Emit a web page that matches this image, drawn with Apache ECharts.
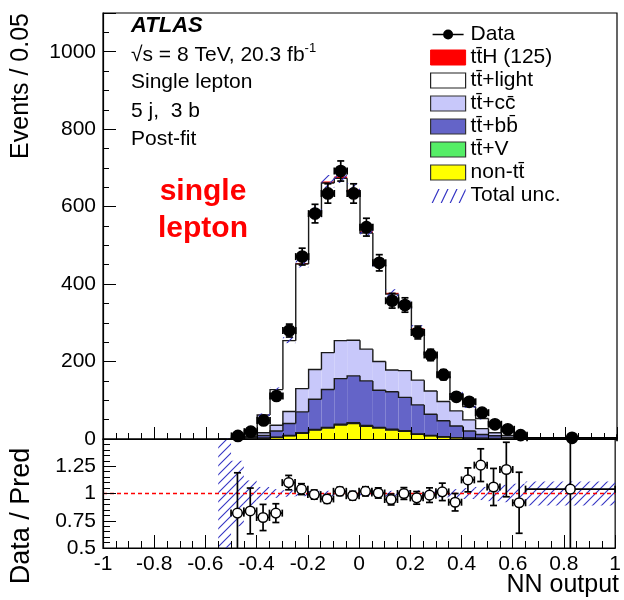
<!DOCTYPE html>
<html><head><meta charset="utf-8">
<script src="https://cdn.jsdelivr.net/npm/echarts@6/dist/echarts.min.js"></script>
<style>html,body{margin:0;padding:0;background:#fff}#c{width:624px;height:600px}</style>
</head><body><div id="c"></div>
<script>
// ---- data ----
const binEdges = [-0.55,-0.5,-0.45,-0.4,-0.35,-0.3,-0.25,-0.2,-0.15,-0.1,-0.05,0,0.05,0.1,0.15,0.2,0.25,0.3,0.35,0.4,0.45,0.5,0.55,0.6,0.65,1.0];
const nonTT   = [0,0.4,1,2,4,8,15,23,28,36,40,33,28,23,20,12,8,5,3,2,1.5,1,0.5,0.3,0.2];
const ttV     = [0,0,0,0,0.5,1,1,1.5,2,2,2,2,2,2,1.5,1,1,1,0.5,0.5,0.3,0.2,0.1,0.1,0];
const ttbb    = [0.1,1,3,7,16,31,54,78,98,118,121,115,96,97,86,75,55,41,30,18,10,7,3.5,1.6,0.8];
const ttcc    = [0.1,1.5,3,7,15,31,60,77,95,98,92,82,74,56,69,64,60,50,39,29,15,8,5,3,1];
const ttlight = [0.1,5,15,46,92,183,322,402,438,419,384,300,248,196,167,131,94,65,44,34,26,19.5,11,6,1];
const ttH     = [0,0,0.1,0.3,0.6,1.2,2.5,3.5,4,5,5,4.5,4,3.5,3,2.5,2,1.5,1.2,1,0.7,0.5,0.3,0.2,0.1];
const dataVals = [null,8,19,48,111,280,471,582,634,692,634,547,455,357,346,275,217,166,109,96,68,38,25,10,3];
const dataErr  = [0,2.8,4.4,7,10.5,16.7,21.7,24,25,26,25,23,21,19,18.6,16.6,14.7,12.9,10.4,9.8,8.2,6.2,5,3.2,1.7];
const ratioVals = [null,0.82,0.84,0.78,0.82,1.10,1.04,0.99,0.95,1.02,0.98,1.02,1.005,0.945,1.0,0.96,0.985,1.015,0.92,1.125,1.26,1.06,1.22,0.915,1.04];
const ratioErr  = [0,0.37,0.21,0.12,0.086,0.066,0.05,0.042,0.04,0.038,0.04,0.042,0.047,0.05,0.054,0.058,0.067,0.08,0.08,0.11,0.15,0.17,0.25,0.28,0.6];
const relUnc    = [1,0.3,0.12,0.06,0.04,0.03,0.025,0.025,0.025,0.025,0.025,0.025,0.025,0.025,0.03,0.03,0.03,0.035,0.04,0.05,0.06,0.07,0.08,0.09,0.11];
const xTicks = [-1,-0.8,-0.6,-0.4,-0.2,0,0.2,0.4,0.6,0.8,1];
const yTicks = [0,200,400,600,800,1000];
const ratioTicks = [0.5,0.75,1,1.25];
const ratioRef = [[-1,1],[1,1]];

const FONT = '"Liberation Sans", Arial, sans-serif';
const TB = 't\u0304';

// hatch pattern
const hc = document.createElement('canvas'); hc.width = 9; hc.height = 9;
(function(){const g = hc.getContext('2d'); g.strokeStyle = '#3434c4'; g.lineWidth = 1.1;
 g.beginPath(); g.moveTo(-1,10); g.lineTo(10,-1); g.moveTo(-1,1); g.lineTo(1,-1); g.moveTo(8,10); g.lineTo(10,8); g.stroke();})();
const hatch = {image: hc, repeat: 'repeat'};

function inList(list, v){ return list.some(t => Math.abs(t - v) < 1e-9); }

function layerRender(fill, line) {
  return function (params, api) {
    const x0 = api.value(0), x1 = api.value(1), b = api.value(2), t = api.value(3), pt = api.value(4), last = api.value(5);
    const p0 = api.coord([x0, b]), p1 = api.coord([x1, t]);
    const children = [
      {type: 'rect', z2: 0, shape: {x: p0[0], y: p1[1], width: p1[0] - p0[0], height: p0[1] - p1[1]}, style: {fill: fill}}
    ];
    if (line) {
      const pPrev = api.coord([x0, pt]);
      const pts = [[p0[0], pPrev[1]], [p0[0], p1[1]], [p1[0], p1[1]]];
      if (last) pts.push([p1[0], api.coord([x1, 0])[1]]);
      children.push({type: 'polyline', z2: 20, shape: {points: pts}, style: {stroke: line, lineWidth: 1.4, fill: null}});
    }
    return {type: 'group', children: children};
  };
}

const layers = [
  {name: 'non-t' + TB, vals: nonTT, fill: '#ffff00', line: '#1a1a1a'},
  {name: 't' + TB + '+V', vals: ttV, fill: '#55ee66', line: '#1a1a1a'},
  {name: 't' + TB + '+bb\u0304', vals: ttbb, fill: '#6464c8', line: '#1a1a1a'},
  {name: 't' + TB + '+cc\u0304', vals: ttcc, fill: '#c8c8fa', line: '#1a1a1a'},
  {name: 't' + TB + '+light', vals: ttlight, fill: '#ffffff', line: '#1a1a1a'},
  {name: 't' + TB + 'H (125)', vals: ttH, fill: '#ff0000', line: null}
];

let cum = dataErr.map(() => 0);
const layerSeries = layers.map(L => {
  const bottoms = cum.slice();
  const tops = cum.map((c, i) => c + L.vals[i]);
  cum = tops;
  const data = tops.map((t, i) => [binEdges[i], binEdges[i + 1], bottoms[i], t, i === 0 ? 0 : tops[i - 1], i === tops.length - 1 ? 1 : 0]);
  return {type: 'custom', name: L.name, xAxisIndex: 0, yAxisIndex: 0, z: 2,
    renderItem: layerRender(L.fill, L.line), data: data, itemStyle: {color: L.fill},
    encode: {x: [0, 1], y: [2, 3]}, silent: true};
});
const total = cum;

function bandRender(params, api) {
  const a = api.coord([api.value(0), api.value(3)]), b = api.coord([api.value(1), api.value(2)]);
  return {type: 'rect', shape: {x: a[0], y: a[1], width: b[0] - a[0], height: b[1] - a[1]}, style: {fill: hatch}};
}
const upperBand = total.map((t, i) => [binEdges[i], binEdges[i + 1], t * (1 - relUnc[i]), t * (1 + relUnc[i])]);
const lowerBand = relUnc.map((r, i) => [binEdges[i], binEdges[i + 1], 1 - r, 1 + r]);

function refLineRender(params, api) {
  const a = api.coord([api.value(0), api.value(1)]), b = api.coord([api.value(2), api.value(3)]);
  return {type: 'line', shape: {x1: a[0], y1: a[1], x2: b[0], y2: b[1]}, style: {stroke: '#ff0000', lineWidth: 1.3, lineDash: [4, 3]}};
}

function pointRender(open) {
  return function (params, api) {
    const xc = api.value(0), y = api.value(1), xl = api.value(2), xh = api.value(3), e = api.value(4);
    const c = api.coord([xc, y]), l = api.coord([xl, y]), h = api.coord([xh, y]);
    const up = api.coord([xc, y + e]), dn = api.coord([xc, y - e]);
    const cap = 3.5, r = open ? 4.8 : 5.6;
    const st = {stroke: '#000', lineWidth: 1.7};
    return {type: 'group', children: [
      {type: 'line', shape: {x1: l[0], y1: c[1], x2: h[0], y2: c[1]}, style: st},
      {type: 'line', shape: {x1: l[0], y1: c[1] - cap, x2: l[0], y2: c[1] + cap}, style: st},
      {type: 'line', shape: {x1: h[0], y1: c[1] - cap, x2: h[0], y2: c[1] + cap}, style: st},
      {type: 'line', shape: {x1: c[0], y1: up[1], x2: c[0], y2: dn[1]}, style: st},
      {type: 'line', shape: {x1: c[0] - cap, y1: up[1], x2: c[0] + cap, y2: up[1]}, style: st},
      {type: 'line', shape: {x1: c[0] - cap, y1: dn[1], x2: c[0] + cap, y2: dn[1]}, style: st},
      {type: 'circle', shape: {cx: c[0], cy: c[1], r: r}, style: {fill: open ? '#fff' : '#000', stroke: '#000', lineWidth: 1.5}}
    ]};
  };
}
const dataPts = [], ratioPts = [];
dataVals.forEach((v, i) => {
  if (v === null) return;
  const xl = binEdges[i], xh = binEdges[i + 1], xc = (xl + xh) / 2;
  dataPts.push([xc, v, xl, xh, dataErr[i]]);
  ratioPts.push([xc, ratioVals[i], xl, xh, ratioErr[i]]);
});

const axisCommon = {
  axisLine: {show: true, onZero: false, lineStyle: {color: '#000', width: 1.2}},
  splitLine: {show: false}, z: 10
};
const lbl = {fontSize: 21, color: '#000', fontFamily: FONT};

const dataIcon = 'path://M0,0 L0.01,0 L0,0.01 Z M35,15 L34.99,15 L35,14.99 Z M2,6.8 L33,6.8 L33,8.2 L2,8.2 Z M17.5,2.5 A5,5 0 1 1 17.49,2.5 Z';
const hatchIcon = 'path://M0,0 L0.01,0 L0,0.01 Z M35,15 L34.99,15 L35,14.99 Z M1,15 L2.3,15 L9,1 L7.7,1 Z M10,15 L11.3,15 L18,1 L16.7,1 Z M19,15 L20.3,15 L27,1 L25.7,1 Z M28,15 L29.3,15 L35,3 L35,1 L34.7,1 Z';

const txt = (x, y, text, font, extra) => Object.assign({type: 'text', x: x, y: y,
  style: Object.assign({text: text, font: font, fill: '#000', textVerticalAlign: 'middle', verticalAlign: 'middle'}, extra || {})});

const option = {
  animation: false,
  backgroundColor: '#fff',
  textStyle: {fontFamily: FONT},
  grid: [
    {left: 103, right: 7, top: 13, height: 426, show: true, borderColor: '#000', borderWidth: 1.2},
    {left: 103, right: 7, top: 439, height: 109, show: true, borderColor: '#000', borderWidth: 1.2}
  ],
  xAxis: [
    Object.assign({gridIndex: 0, type: 'value', min: -1, max: 1, interval: 0.2,
      axisTick: {show: true, inside: true, length: 12, lineStyle: {color: '#000'}},
      minorTick: {show: true, splitNumber: 4, length: 6, lineStyle: {color: '#000'}},
      axisLabel: {show: false}}, axisCommon),
    Object.assign({gridIndex: 1, type: 'value', min: -1, max: 1, interval: 0.2,
      axisTick: {show: true, inside: true, length: 13, lineStyle: {color: '#000'}},
      minorTick: {show: true, splitNumber: 4, length: 7, lineStyle: {color: '#000'}},
      axisLabel: Object.assign({show: true, margin: 6, formatter: v => inList(xTicks, v) ? String(+v.toFixed(2)) : ''}, lbl)}, axisCommon)
  ],
  yAxis: [
    Object.assign({gridIndex: 0, type: 'value', min: 0, max: 1100, interval: 200,
      axisTick: {show: true, inside: true, length: 13, lineStyle: {color: '#000'}},
      minorTick: {show: true, splitNumber: 4, length: 6, lineStyle: {color: '#000'}},
      axisLabel: Object.assign({margin: 7, formatter: v => inList(yTicks, v) ? String(v) : ''}, lbl)}, axisCommon),
    Object.assign({gridIndex: 1, type: 'value', min: 0.5, max: 1.5, interval: 0.25,
      axisTick: {show: true, inside: true, length: 13, lineStyle: {color: '#000'}},
      minorTick: {show: true, splitNumber: 5, length: 7, lineStyle: {color: '#000'}},
      axisLabel: Object.assign({margin: 7, formatter: v => inList(ratioTicks, v) ? String(+v.toFixed(2)) : ''}, lbl)}, axisCommon)
  ],
  legend: {
    left: 430, top: 24, orient: 'vertical', padding: 0, itemWidth: 35, itemHeight: 15, itemGap: 2,
    itemTextGap: 8, selectedMode: false,
    textStyle: {fontSize: 21, color: '#000', fontFamily: FONT},
    data: [
      {name: 'Data', icon: dataIcon, itemStyle: {color: '#000', borderWidth: 0}},
      {name: layers[5].name, icon: 'rect', itemStyle: {color: '#ff0000', borderColor: '#ff0000', borderWidth: 1}},
      {name: layers[4].name, icon: 'rect', itemStyle: {color: '#ffffff', borderColor: '#222', borderWidth: 1.2}},
      {name: layers[3].name, icon: 'rect', itemStyle: {color: '#c8c8fa', borderColor: '#333', borderWidth: 1.2}},
      {name: layers[2].name, icon: 'rect', itemStyle: {color: '#6464c8', borderColor: '#333', borderWidth: 1.2}},
      {name: layers[1].name, icon: 'rect', itemStyle: {color: '#55ee66', borderColor: '#333', borderWidth: 1.2}},
      {name: layers[0].name, icon: 'rect', itemStyle: {color: '#ffff00', borderColor: '#333', borderWidth: 1.2}},
      {name: 'Total unc.', icon: hatchIcon, itemStyle: {color: '#3434c4', borderWidth: 0}}
    ]
  },
  graphic: [
    txt(131, 26, 'ATLAS', 'italic bold 22px ' + FONT),
    {type: 'text', x: 131, y: 54, style: {text: '{a|\u221As = 8 TeV, 20.3 fb}{b|-1}', fill: '#000', textVerticalAlign: 'middle', verticalAlign: 'middle',
      rich: {a: {fontSize: 21, fontFamily: FONT, lineHeight: 24, verticalAlign: 'bottom'}, b: {fontSize: 13, fontFamily: FONT, lineHeight: 24, verticalAlign: 'top'}}}},
    txt(131, 82, 'Single lepton', '21px ' + FONT),
    txt(131, 111, '5 j,  3 b', '21px ' + FONT),
    txt(131, 139, 'Post-fit', '21px ' + FONT),
    txt(203, 192, 'single', 'bold 30px ' + FONT, {fill: '#ff0000', textAlign: 'center', align: 'center'}),
    txt(203, 229, 'lepton', 'bold 30px ' + FONT, {fill: '#ff0000', textAlign: 'center', align: 'center'}),
    Object.assign(txt(21, 13, 'Events / 0.05', '25px ' + FONT, {textAlign: 'right', align: 'right'}), {rotation: Math.PI / 2}),
    Object.assign(txt(22, 516, 'Data / Pred', '27px ' + FONT, {textAlign: 'center', align: 'center'}), {rotation: Math.PI / 2}),
    txt(619, 585, 'NN output', '25px ' + FONT, {textAlign: 'right', align: 'right'})
  ],
  series: layerSeries.concat([
    {type: 'custom', name: 'Total unc.', xAxisIndex: 0, yAxisIndex: 0, z: 3, silent: true,
      renderItem: bandRender, data: upperBand, itemStyle: {color: '#3434c4'}, encode: {x: [0, 1], y: [2, 3]}},
    {type: 'custom', name: 'Total unc.', xAxisIndex: 1, yAxisIndex: 1, z: 3, silent: true, clip: true,
      renderItem: bandRender, data: lowerBand, itemStyle: {color: '#3434c4'}, encode: {x: [0, 1], y: [2, 3]}},
    {type: 'custom', name: 'ratio = 1', xAxisIndex: 1, yAxisIndex: 1, z: 4, silent: true,
      renderItem: refLineRender, data: [[ratioRef[0][0], ratioRef[0][1], ratioRef[1][0], ratioRef[1][1]]],
      itemStyle: {color: '#ff0000'}, encode: {x: [0, 2], y: [1, 3]}},
    {type: 'custom', name: 'Data', xAxisIndex: 0, yAxisIndex: 0, z: 5, silent: true,
      renderItem: pointRender(false), data: dataPts, itemStyle: {color: '#000'}, encode: {x: 0, y: 1}},
    {type: 'custom', name: 'Data / Pred', xAxisIndex: 1, yAxisIndex: 1, z: 5, silent: true, clip: true,
      renderItem: pointRender(true), data: ratioPts, itemStyle: {color: '#000'}, encode: {x: 0, y: 1}}
  ])
};
const chart = echarts.init(document.getElementById('c'), null, {renderer: 'canvas'});
chart.setOption(option);
</script>
</body></html>
